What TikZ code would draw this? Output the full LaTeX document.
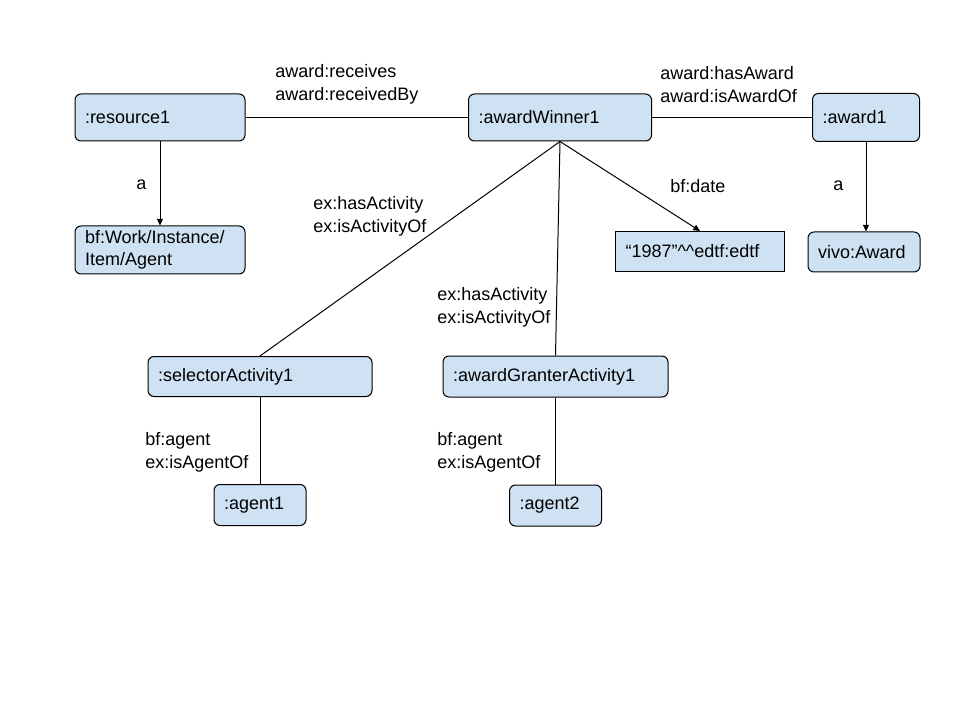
\documentclass[tikz,border=0pt]{standalone}
\usepackage{fontspec}
\setmainfont{Liberation Sans}
\usetikzlibrary{arrows.meta, positioning}
\definecolor{boxBlue}{HTML}{CFE2F3}

\begin{document}
\begin{tikzpicture}[
        x=0.75pt, y=-0.75pt,
        every node/.style={font=\fontsize{13.5}{16.5}\selectfont},
        resNode/.style={
            rectangle, rounded corners=4.5pt, draw=black, line width=0.75pt,
            fill=boxBlue, inner xsep=7.5pt, inner ysep=0pt, align=left
        },
        litNode/.style={resNode, sharp corners},
        propLabel/.style={
            anchor=west, align=left, inner sep=0pt,
            font=\fontsize{13.5}{17.25}\selectfont
        },
        link/.style={line width=0.75pt, draw=black},
        arrow/.style={link, -{Triangle[length=5pt, width=4.5pt]}}
    ]
        \useasboundingbox (0,0) rectangle (960,720);

        % Top row
        \node (res) [resNode, text width=112.5pt, minimum height=35.25pt] at (160,117.5) {:resource1};
        \node (winner) [resNode, text width=122.25pt, minimum height=35.25pt] at (560,117.5) {:awardWinner1};
        \node (award) [resNode, text width=65.25pt, minimum height=36pt] at (866,117.5) {:award1};

        % Types and literal
        \node (work) [resNode, text width=112.5pt, minimum height=36pt, below=63pt of res] {bf:Work/Instance/\\Item/Agent};
        \node (date) [litNode, text width=111.75pt, minimum height=30pt] at (700,251.5) {“1987”\textasciicircum\textasciicircum edtf:edtf};
        \node (vivo) [resNode, text width=69pt, minimum height=30pt] at (864,252) {vivo:Award};

        % Activities and agents
        \node (selector) [resNode, text width=153pt, minimum height=30pt] at (260,376.5) {:selectorActivity1};
        \node (granter) [resNode, text width=153.75pt, minimum height=30.75pt] at (555.5,376.5) {:awardGranterActivity1};
        \node (agentA) [resNode, text width=54pt, minimum height=30.75pt, below=65.25pt of selector] {:agent1};
        \node (agentB) [resNode, text width=54pt, minimum height=30.75pt, below=65.25pt of granter] {:agent2};

        % Connectors
        \draw [link] (res.east) -- (winner.west);
        \draw [link] (winner.east) -- (award.west);
        \draw [arrow] (res.south) -- (work.north);
        \draw [arrow] (award.south) -- (award.south |- vivo.north);
        \draw [arrow] (winner.south) -- (date.north);
        \draw [link] (winner.south) -- (selector.north);
        \draw [link] (winner.south) -- (granter.north);
        \draw [link] (selector.south) -- (agentA.north);
        \draw [link] (granter.south) -- (agentB.north);

        % Property labels
        \node (lblRecv) [propLabel] at (275,84.5) {award:receives\\award:receivedBy};
        \node (lblHas) [propLabel] at (660,84.5) {award:hasAward\\award:isAwardOf};
        \node (lblTypeA) [propLabel] at (136,185) {a};
        \node (lblTypeB) [propLabel] at (833,186) {a};
        \node (lblDate) [propLabel] at (670,186) {bf:date};
        \node (lblActA) [propLabel] at (313,216) {ex:hasActivity\\ex:isActivityOf};
        \node (lblActB) [propLabel] at (437,307.5) {ex:hasActivity\\ex:isActivityOf};
        \node (lblAgentA) [propLabel] at (145,452) {bf:agent\\ex:isAgentOf};
        \node (lblAgentB) [propLabel] at (437,452) {bf:agent\\ex:isAgentOf};
    \end{tikzpicture}
\end{document}
